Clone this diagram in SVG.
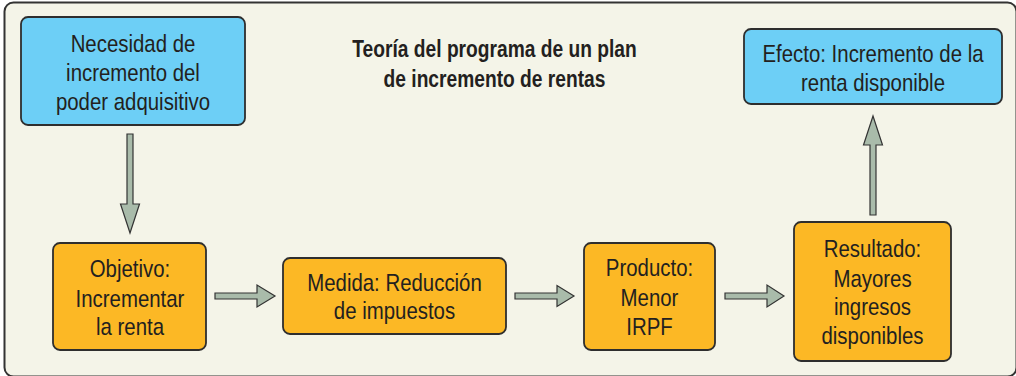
<svg xmlns="http://www.w3.org/2000/svg" width="1016" height="376" viewBox="0 0 1016 376">
<style>
.frame{fill:#f4f4e8;stroke:#333333;stroke-width:2}
.blue{fill:#6dcff6;stroke:#2e2e2e;stroke-width:1.8}
.orange{fill:#fcb825;stroke:#2e2e2e;stroke-width:1.8}
.arrow{fill:#a9bbaa;stroke:#333333;stroke-width:1.2;stroke-linejoin:miter}
.t{font-family:"Liberation Sans",Arial,sans-serif;font-size:24px;fill:#231f20;text-anchor:middle}
.title{font-family:"Liberation Sans",Arial,sans-serif;font-size:23px;font-weight:bold;fill:#231f20;text-anchor:middle}
</style>
<rect class="frame" x="4.5" y="2.5" width="1012" height="374" rx="9"/>
<g id="title">
<text class="title" transform="translate(494.5,57) scale(0.835,1)">Teoría del programa de un plan</text>
<text class="title" transform="translate(494.5,87) scale(0.835,1)">de incremento de rentas</text>
</g>
<g id="necesidad">
<rect class="blue" x="21" y="17" width="224" height="108" rx="7"/>
<text class="t" transform="translate(133,52) scale(0.85,1)">Necesidad de</text>
<text class="t" transform="translate(133,81) scale(0.85,1)">incremento del</text>
<text class="t" transform="translate(133,110) scale(0.85,1)">poder adquisitivo</text>
</g>
<g id="objetivo">
<rect class="orange" x="53" y="243" width="153" height="107" rx="7"/>
<text class="t" transform="translate(130,277) scale(0.85,1)">Objetivo:</text>
<text class="t" transform="translate(130,307) scale(0.85,1)">Incrementar</text>
<text class="t" transform="translate(130,335) scale(0.85,1)">la renta</text>
</g>
<g id="medida">
<rect class="orange" x="283" y="258" width="223" height="76" rx="7"/>
<text class="t" transform="translate(394.5,291) scale(0.85,1)">Medida: Reducción</text>
<text class="t" transform="translate(394.5,319) scale(0.85,1)">de impuestos</text>
</g>
<g id="producto">
<rect class="orange" x="584" y="243" width="131" height="107" rx="7"/>
<text class="t" transform="translate(649.5,276) scale(0.85,1)">Producto:</text>
<text class="t" transform="translate(649.5,306) scale(0.85,1)">Menor</text>
<text class="t" transform="translate(649.5,335) scale(0.85,1)">IRPF</text>
</g>
<g id="resultado">
<rect class="orange" x="794" y="222" width="157" height="139" rx="7"/>
<text class="t" transform="translate(872.5,257) scale(0.85,1)">Resultado:</text>
<text class="t" transform="translate(872.5,287) scale(0.85,1)">Mayores</text>
<text class="t" transform="translate(872.5,315) scale(0.85,1)">ingresos</text>
<text class="t" transform="translate(872.5,344) scale(0.85,1)">disponibles</text>
</g>
<g id="efecto">
<rect class="blue" x="744" y="29" width="258" height="75" rx="7"/>
<text class="t" transform="translate(873,62) scale(0.85,1)">Efecto: Incremento de la</text>
<text class="t" transform="translate(873,91) scale(0.85,1)">renta disponible</text>
</g>
<g id="connectors">
<path class="arrow" d="M127,134 H133 V204 H139.5 L130,233 L120.5,204 H127 Z"/>
<path class="arrow" d="M215,293 H257 V285 L275,296 L257,307 V299 H215 Z"/>
<path class="arrow" d="M515,293 H557 V285.5 L574,296 L557,306.5 V299 H515 Z"/>
<path class="arrow" d="M725,293 H767 V285 L784,296 L767,307 V299 H725 Z"/>
<path class="arrow" d="M870,215 V145 H863.5 L873,116 L882.5,145 H876 V215 Z"/>
</g>
</svg>
